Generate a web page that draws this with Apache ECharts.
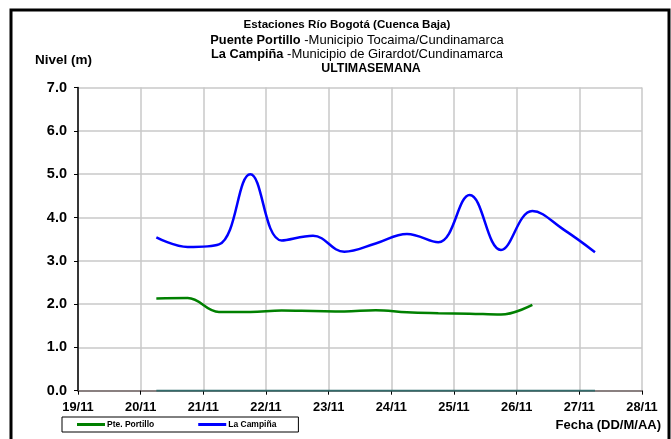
<!DOCTYPE html>
<html>
<head>
<meta charset="utf-8">
<script src="https://cdn.jsdelivr.net/npm/echarts@6/dist/echarts.min.js"></script>
<style>html,body{margin:0;padding:0;background:#fff}#c{width:671px;height:439px}</style>
</head>
<body>
<div id="c"></div>
<script>
// Days since 19/11 00:00 (half-day readings)
var times = [1.25, 1.75, 2.25, 2.75, 3.25, 3.75, 4.25, 4.75, 5.25, 5.75, 6.25, 6.75, 7.25, 7.75, 8.25];
var laCampina = [3.54, 3.32, 3.38, 5.00, 3.47, 3.58, 3.21, 3.40, 3.62, 3.43, 4.52, 3.25, 4.15, 3.72, 3.20];
var ptePortillo = [2.13, 2.14, 1.82, 1.82, 1.85, 1.84, 1.83, 1.86, 1.81, 1.79, 1.78, 1.76, 1.98];
var zeroLine = [0, 0, 0, 0, 0, 0, 0, 0, 0, 0, 0, 0, 0, 0, 0];
var xTickLabels = ['19/11', '20/11', '21/11', '22/11', '23/11', '24/11', '25/11', '26/11', '27/11', '28/11'];
var yTicks = [0, 1, 2, 3, 4, 5, 6, 7];

function pairs(xs, ys) { return ys.map(function (v, i) { return [xs[i], v]; }); }

var FONT = 'Liberation Sans, Arial, sans-serif';
var rich = {
  b: { fontFamily: FONT, fontWeight: 'bold', fontSize: 12.8, color: '#000' },
  n: { fontFamily: FONT, fontWeight: 'normal', fontSize: 13, color: '#000' }
};
var chart = echarts.init(document.getElementById('c'), null, { renderer: 'canvas' });
chart.setOption({
  animation: false,
  backgroundColor: '#fff',
  textStyle: { fontFamily: FONT },
  title: [
    { left: 347, top: 18.5, textAlign: 'center', padding: 0, text: 'Estaciones Río Bogotá (Cuenca Baja)',
      textStyle: { fontFamily: FONT, fontWeight: 'bold', fontSize: 11.6, color: '#000' } },
    { left: 357, top: 33.5, textAlign: 'center', padding: 0, text: '{b|Puente Portillo}{n| -Municipio Tocaima/Cundinamarca}',
      textStyle: { rich: rich } },
    { left: 357, top: 48, textAlign: 'center', padding: 0, text: '{b|La Campiña}{n| -Municipio de Girardot/Cundinamarca}',
      textStyle: { rich: rich } },
    { left: 371, top: 62.5, textAlign: 'center', padding: 0, text: 'ULTIMASEMANA',
      textStyle: { fontFamily: FONT, fontWeight: 'bold', fontSize: 12.4, color: '#000' } }
  ],
  legend: {
    left: 62, top: 417, width: 236,
    padding: [3, 22, 3, 15],
    itemGap: 44,
    borderColor: '#000', borderWidth: 1,
    itemWidth: 28, itemHeight: 3, icon: 'rect',
    textStyle: { fontFamily: FONT, fontWeight: 'bold', fontSize: 8.5, color: '#000', padding: [0, 0, 0, -3] },
    data: ['Pte. Portillo', 'La Campiña']
  },
  grid: { left: 78, right: 29, top: 87.6, bottom: 48.3, containLabel: false },
  xAxis: {
    type: 'value', min: 0, max: 9, interval: 1,
    axisLine: { show: true, onZero: false, lineStyle: { color: '#8a8080', width: 2 } },
    axisTick: { show: true, length: 4, lineStyle: { color: '#000', width: 1 } },
    axisLabel: {
      margin: 10, fontFamily: FONT, fontWeight: 'bold', fontSize: 12.8, color: '#000',
      formatter: function (v) { return xTickLabels[Math.round(v)]; }
    },
    splitLine: { show: true, lineStyle: { color: '#c8c8c8', width: 1.5 } }
  },
  yAxis: {
    type: 'value', min: yTicks[0], max: yTicks[yTicks.length - 1], interval: 1,
    axisLine: { show: true, lineStyle: { color: '#000', width: 1.5 } },
    axisTick: { show: true, length: 4, lineStyle: { color: '#000', width: 1 } },
    axisLabel: {
      margin: 11, fontFamily: FONT, fontWeight: 'bold', fontSize: 14.5, color: '#000',
      formatter: function (v) { return v.toFixed(1); }
    },
    splitLine: { show: true, lineStyle: { color: '#c8c8c8', width: 1.5 } }
  },
  graphic: [
    { type: 'rect', shape: { x: 11, y: 10, width: 658, height: 450 }, style: { fill: 'none', stroke: '#000', lineWidth: 3 }, silent: true, z: 100 },
    { type: 'text', left: 35, top: 53.5, style: { text: 'Nivel (m)', fontFamily: FONT, fontWeight: 'bold', fontSize: 13.5, fill: '#000' } },
    { type: 'text', right: 10, top: 418.5, style: { text: 'Fecha (DD/M/AA)', fontFamily: FONT, fontWeight: 'bold', fontSize: 13, fill: '#000' } }
  ],
  series: [
    {
      name: 'Pte. Portillo', type: 'line', smooth: 0.4, symbol: 'none',
      data: pairs(times, ptePortillo),
      lineStyle: { color: '#008000', width: 2.5 }, itemStyle: { color: '#008000' }, z: 3
    },
    {
      name: 'La Campiña', type: 'line', smooth: 0.4, symbol: 'none',
      data: pairs(times, laCampina),
      lineStyle: { color: '#0000ff', width: 2.5 }, itemStyle: { color: '#0000ff' }, z: 4
    },
    {
      name: 'cero', type: 'line', symbol: 'none',
      data: pairs(times, zeroLine),
      lineStyle: { color: '#336b6b', width: 2 }, itemStyle: { color: '#336b6b' }, z: 5
    }
  ]
});
</script>
</body>
</html>
